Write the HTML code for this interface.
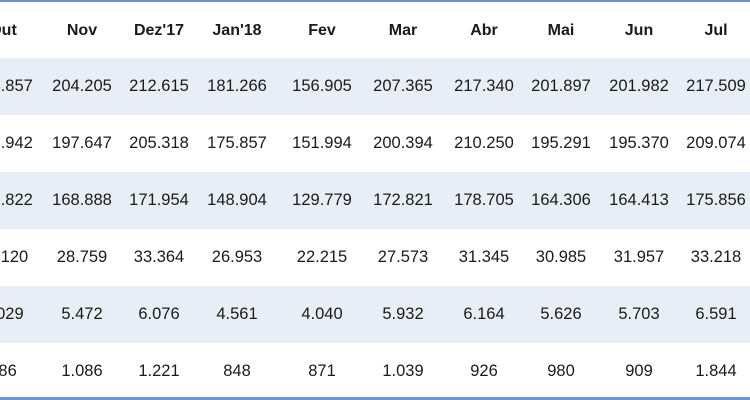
<!DOCTYPE html>
<html><head><meta charset="utf-8"><style>
body{margin:0;width:750px;height:400px;overflow:hidden;background:#fff;font-family:"Liberation Sans",sans-serif;color:#1a1a1a;position:relative}
.row{position:absolute;left:0;width:750px;height:57px}
.b{background:#e9edf6}
.c{position:absolute;top:0;height:57px;line-height:57px;width:90px;margin-left:-45px;text-align:center;font-size:16.5px}
.h .c{font-weight:bold;font-size:16px}
.line{position:absolute;left:0;width:750px;height:2px;background:#6f95cf}
</style></head><body>
<div class="line" style="top:0"></div>
<div class="line" style="top:397px;height:3px"></div>
<div id="t"></div>
<script>
var xs=[3,82,159,237,322,403,484,561,639,716];
var rows=[["Out","Nov","Dez'17","Jan'18","Fev","Mar","Abr","Mai","Jun","Jul"],
["194.857","204.205","212.615","181.266","156.905","207.365","217.340","201.897","201.982","217.509"],
["188.942","197.647","205.318","175.857","151.994","200.394","210.250","195.291","195.370","209.074"],
["158.822","168.888","171.954","148.904","129.779","172.821","178.705","164.306","164.413","175.856"],
["24.120","28.759","33.364","26.953","22.215","27.573","31.345","30.985","31.957","33.218"],
["5.029","5.472","6.076","4.561","4.040","5.932","6.164","5.626","5.703","6.591"],
["986","1.086","1.221","848","871","1.039","926","980","909","1.844"]];
var tops=[2,58,115,172,229,286,343];
var h="";
rows.forEach(function(r,i){
 h+='<div class="row'+(i==0?' h':'')+(i%2==1?' b':'')+'" style="top:'+tops[i]+'px">';
 r.forEach(function(v,j){h+='<div class="c" style="left:'+xs[j]+'px">'+v+'</div>';});
 h+='</div>';
});
document.getElementById('t').innerHTML=h;
</script>
</body></html>
